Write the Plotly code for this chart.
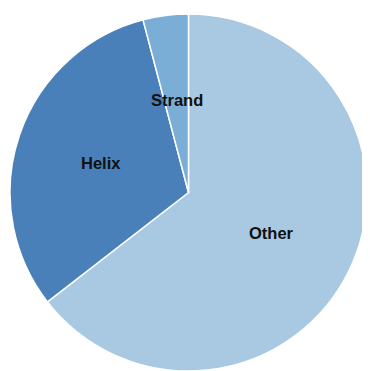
import math
import plotly.graph_objects as go

labels = ["Other", "Helix", "Strand"]
values = [64.5, 31.4, 4.1]
colors = ["#a8c9e1", "#4a80b9", "#7aaed6"]

# page body adds an 8px offset
W, H = 370, 371
ML, MR, MT, MB = 2, 11, 6, 8

fig = go.Figure(go.Pie(
    labels=labels, values=values, sort=False, direction="clockwise", rotation=0,
    marker=dict(colors=colors, line=dict(color="white", width=1.5)),
    textinfo="none", hoverinfo="label+percent", showlegend=False,
))

total = sum(values)
pw, ph = W - ML - MR, H - MT - MB
r = min(pw, ph) / 2
annotations = []
cum = 0
for lab, v in zip(labels, values):
    mid = (cum + v / 2) / total * 2 * math.pi
    cum += v
    dx = 0.52 * r * math.sin(mid) / pw
    dy = 0.52 * r * math.cos(mid) / ph
    annotations.append(dict(x=0.5 + dx, y=0.5 + dy, xref="paper", yref="paper",
                            xanchor="center", yanchor="middle",
                            text="<b>" + lab + "</b>", showarrow=False,
                            font=dict(family="Liberation Sans, Arial", size=16.5, color="#111111")))

fig.update_layout(
    width=W, height=H, margin=dict(l=ML, r=MR, t=MT, b=MB),
    paper_bgcolor="white", plot_bgcolor="white",
    annotations=annotations,
)
fig.write_html("out.html")
